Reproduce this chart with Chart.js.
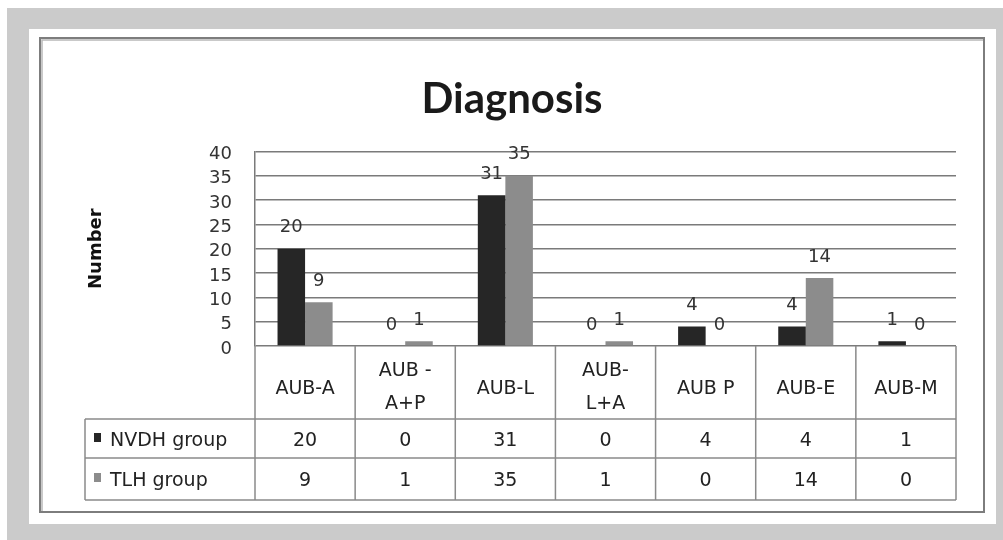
<!DOCTYPE html>
<html>
<head>
<meta charset="utf-8">
<script src="https://cdn.jsdelivr.net/npm/chart.js@4.4.1/dist/chart.umd.min.js"></script>
<style>
    html, body { margin: 0; padding: 0; background: #cbcbcb; }
</style>
</head>
<body>
<canvas id="graficoDiagnosis" width="1003" height="540"></canvas>
<script>
const categories = ['AUB-A', ['AUB -', 'A+P'], 'AUB-L', ['AUB-', 'L+A'], 'AUB P', 'AUB-E', 'AUB-M'];
const seriesNames = ['NVDH group', 'TLH group'];
const nvdhValues = [20, 0, 31, 0, 4, 4, 1];
const tlhValues = [9, 1, 35, 1, 0, 14, 0];
const yMax = 40;
const yStep = 5;

const colores = ['#262626', '#8c8c8c'];
const fuente = 'DejaVu Sans';

// page background + chart frame
const fondoPlugin = {
    id: 'fondo',
    beforeDraw(chart) {
        const ctx = chart.ctx;
        ctx.save();
        ctx.fillStyle = '#ffffff';
        ctx.fillRect(0, 0, 1003, 540);
        ctx.fillStyle = '#cbcbcb';
        ctx.fillRect(7, 8, 996, 532);
        ctx.fillStyle = '#ffffff';
        ctx.fillRect(29, 29, 967, 495);
        ctx.strokeStyle = '#b8b8b8';
        ctx.lineWidth = 1.5;
        ctx.strokeRect(42, 40, 942, 472);
        ctx.strokeStyle = '#7d7d7d';
        ctx.lineWidth = 2;
        ctx.strokeRect(40, 38, 944, 474);
        ctx.restore();
    }
};

// value labels above the bars
const etiquetasPlugin = {
    id: 'etiquetas',
    afterDatasetsDraw(chart) {
        const ctx = chart.ctx;
        ctx.save();
        ctx.font = '18px "' + fuente + '"';
        ctx.fillStyle = '#333333';
        ctx.textAlign = 'center';
        ctx.textBaseline = 'middle';
        chart.data.datasets.forEach((ds, i) => {
            chart.getDatasetMeta(i).data.forEach((bar, j) => {
                ctx.fillText(String(ds.data[j]), bar.x, bar.y - 21);
            });
        });
        ctx.restore();
    }
};

// data table under the plot
const tablaPlugin = {
    id: 'tabla',
    afterDraw(chart) {
        const ctx = chart.ctx;
        const xs = chart.scales.x;
        const area = chart.chartArea;
        const colW = xs.getPixelForValue(1) - xs.getPixelForValue(0);
        const top = area.bottom;
        const filas = [419, 458, 500];
        const izq = 85;

        ctx.save();
        ctx.strokeStyle = '#8a8a8a';
        ctx.lineWidth = 1.5;
        ctx.beginPath();
        for (let k = 0; k <= categories.length; k++) {
            const xx = k < categories.length ? xs.getPixelForValue(k) - colW / 2 : area.right;
            ctx.moveTo(xx, top);
            ctx.lineTo(xx, filas[2]);
        }
        ctx.moveTo(izq, filas[0]);
        ctx.lineTo(izq, filas[2]);
        filas.forEach(yy => {
            ctx.moveTo(izq, yy);
            ctx.lineTo(area.right, yy);
        });
        ctx.stroke();

        ctx.fillStyle = '#222222';
        ctx.font = '19px "' + fuente + '"';
        ctx.textAlign = 'center';
        ctx.textBaseline = 'middle';
        categories.forEach((cat, i) => {
            const cx = xs.getPixelForValue(i);
            if (Array.isArray(cat)) {
                ctx.fillText(cat[0], cx, 371);
                ctx.fillText(cat[1], cx, 404);
            } else {
                ctx.fillText(cat, cx, 389);
            }
        });

        const series = [nvdhValues, tlhValues];
        const centros = [441, 481];
        series.forEach((vals, s) => {
            ctx.fillStyle = '#222222';
            ctx.textAlign = 'center';
            vals.forEach((v, i) => {
                ctx.fillText(String(v), xs.getPixelForValue(i), centros[s]);
            });
            ctx.fillStyle = colores[s];
            ctx.fillRect(94, centros[s] - 8, 7, 9);
            ctx.fillStyle = '#222222';
            ctx.textAlign = 'left';
            ctx.fillText(seriesNames[s], 110, centros[s]);
        });
        ctx.restore();
    }
};

new Chart(document.getElementById('graficoDiagnosis').getContext('2d'), {
    type: 'bar',
    data: {
        labels: categories,
        datasets: [{
            label: seriesNames[0],
            data: nvdhValues,
            backgroundColor: colores[0],
            categoryPercentage: 0.55,
            barPercentage: 1
        }, {
            label: seriesNames[1],
            data: tlhValues,
            backgroundColor: colores[1],
            categoryPercentage: 0.55,
            barPercentage: 1
        }]
    },
    options: {
        responsive: false,
        animation: false,
        layout: {
            padding: { left: 68, right: 47, top: 0, bottom: 194 }
        },
        scales: {
            x: {
                display: false
            },
            y: {
                min: 0,
                max: yMax,
                ticks: {
                    stepSize: yStep,
                    autoSkip: false,
                    padding: 23,
                    labelOffset: 3,
                    color: '#333333',
                    font: { family: fuente, size: 18 }
                },
                grid: { color: '#7a7a7a', lineWidth: 1.5, drawTicks: false },
                border: { color: '#7a7a7a', width: 1.5 },
                title: {
                    display: true,
                    text: 'Number',
                    color: '#111111',
                    font: { family: fuente, size: 18, weight: 'bold' },
                    padding: { top: 18, bottom: 0 }
                },
                afterFit(scale) {
                    scale.width = 187;
                }
            }
        },
        plugins: {
            legend: { display: false },
            tooltip: { enabled: false },
            title: {
                display: true,
                text: 'Diagnosis',
                color: '#1a1a1a',
                font: { family: 'Lato', size: 42, weight: 'bold' },
                padding: { top: 74, bottom: 27 }
            }
        }
    },
    plugins: [fondoPlugin, etiquetasPlugin, tablaPlugin]
});
</script>
</body>
</html>
